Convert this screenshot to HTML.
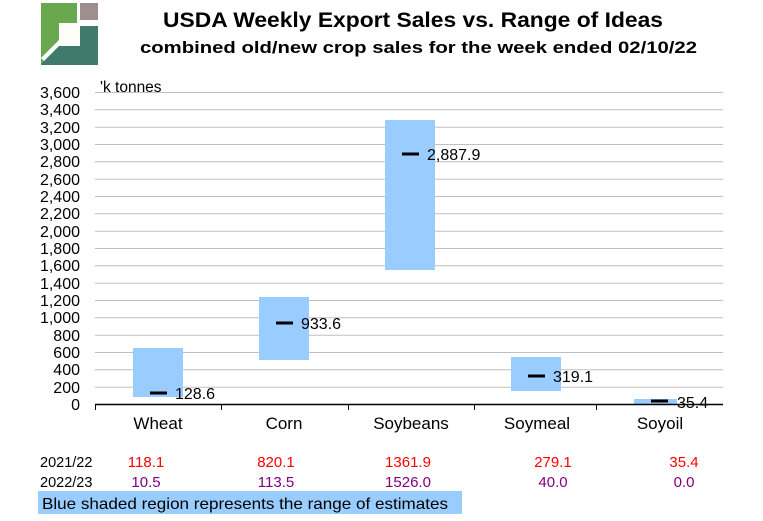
<!DOCTYPE html>
<html><head><style>
body{margin:0;background:#fff;width:763px;height:516px;overflow:hidden;font-family:"Liberation Sans",Arial,sans-serif}
</style></head><body>
<svg width="763" height="516" xmlns="http://www.w3.org/2000/svg" font-family="Liberation Sans, Arial, sans-serif">
<rect x="41" y="3" width="36" height="61" fill="#6aa84f"/>
<rect x="80" y="3" width="18" height="17" fill="#a08e8e"/>
<polygon points="41,64 59,46 80,46 80,26 98,26 98,65 41,65" fill="#3f7a6d"/>
<rect x="59" y="23" width="21" height="23" fill="#fffdf8"/>
<polygon points="41,58 59,40 62,43 44,61" fill="#fff"/>
<text x="163" y="27" font-size="21" font-weight="bold" textLength="500" lengthAdjust="spacingAndGlyphs">USDA Weekly Export Sales vs. Range of Ideas</text>
<text x="140" y="53" font-size="17" font-weight="bold" textLength="557" lengthAdjust="spacingAndGlyphs">combined old/new crop sales for the week ended 02/10/22</text>
<text x="100" y="92" font-size="15.5">'k tonnes</text>
<g stroke="#c0c0c0" stroke-width="1">
<line x1="95" x2="723" y1="92.5" y2="92.5"/><line x1="95" x2="723" y1="109.8" y2="109.8"/><line x1="95" x2="723" y1="127.2" y2="127.2"/><line x1="95" x2="723" y1="144.5" y2="144.5"/><line x1="95" x2="723" y1="161.8" y2="161.8"/><line x1="95" x2="723" y1="179.2" y2="179.2"/><line x1="95" x2="723" y1="196.5" y2="196.5"/><line x1="95" x2="723" y1="213.8" y2="213.8"/><line x1="95" x2="723" y1="231.2" y2="231.2"/><line x1="95" x2="723" y1="248.5" y2="248.5"/><line x1="95" x2="723" y1="265.8" y2="265.8"/><line x1="95" x2="723" y1="283.2" y2="283.2"/><line x1="95" x2="723" y1="300.5" y2="300.5"/><line x1="95" x2="723" y1="317.8" y2="317.8"/><line x1="95" x2="723" y1="335.2" y2="335.2"/><line x1="95" x2="723" y1="352.5" y2="352.5"/><line x1="95" x2="723" y1="369.8" y2="369.8"/><line x1="95" x2="723" y1="387.2" y2="387.2"/>
</g>
<g font-size="16" text-anchor="end">
<text x="80" y="98">3,600</text><text x="80" y="115">3,400</text><text x="80" y="133">3,200</text><text x="80" y="150">3,000</text><text x="80" y="167">2,800</text><text x="80" y="185">2,600</text><text x="80" y="202">2,400</text><text x="80" y="219">2,200</text><text x="80" y="237">2,000</text><text x="80" y="254">1,800</text><text x="80" y="271">1,600</text><text x="80" y="289">1,400</text><text x="80" y="306">1,200</text><text x="80" y="323">1,000</text><text x="80" y="341">800</text><text x="80" y="358">600</text><text x="80" y="375">400</text><text x="80" y="393">200</text><text x="80" y="410">0</text>
</g>
<g fill="#99ccff">
<rect x="133" y="348" width="50" height="49"/>
<rect x="259" y="297" width="50" height="63"/>
<rect x="385" y="120" width="50" height="150"/>
<rect x="511" y="357" width="50" height="34"/>
<rect x="634" y="399" width="43" height="5"/>
</g>
<line x1="95" x2="723" y1="404.5" y2="404.5" stroke="#000" stroke-width="1.5"/>
<g stroke="#000"><line x1="95.5" x2="95.5" y1="404" y2="410"/><line x1="221.5" x2="221.5" y1="404" y2="410"/><line x1="348.5" x2="348.5" y1="404" y2="410"/><line x1="474.5" x2="474.5" y1="404" y2="410"/><line x1="596.5" x2="596.5" y1="404" y2="410"/></g>
<g stroke="#000" stroke-width="3">
<line x1="150" x2="167" y1="393" y2="393"/><line x1="276" x2="293" y1="323" y2="323"/><line x1="402" x2="419" y1="154" y2="154"/><line x1="528" x2="545" y1="376" y2="376"/><line x1="651" x2="668" y1="401" y2="401"/>
</g>
<g font-size="16">
<text x="175" y="399">128.6</text><text x="301" y="329">933.6</text><text x="427" y="160">2,887.9</text><text x="553" y="382">319.1</text><text x="677" y="408">35.4</text>
</g>
<g font-size="17" text-anchor="middle">
<text x="158" y="429">Wheat</text><text x="284" y="429">Corn</text><text x="411" y="429">Soybeans</text><text x="537" y="429">Soymeal</text><text x="660" y="429">Soyoil</text>
</g>
<g font-size="14.5">
<text x="40" y="467">2021/22</text><text x="40" y="487">2022/23</text>
</g>
<g font-size="15" text-anchor="middle" fill="#ff0000">
<text x="146" y="467">118.1</text><text x="276" y="467">820.1</text><text x="408" y="467">1361.9</text><text x="553" y="467">279.1</text><text x="684" y="467">35.4</text>
</g>
<g font-size="15" text-anchor="middle" fill="#800080">
<text x="146" y="487">10.5</text><text x="276" y="487">113.5</text><text x="408" y="487">1526.0</text><text x="553" y="487">40.0</text><text x="684" y="487">0.0</text>
</g>
<rect x="38" y="491" width="424" height="23" fill="#99ccff"/>
<text x="42" y="509" font-size="16" textLength="406" lengthAdjust="spacingAndGlyphs">Blue shaded region represents the range of estimates</text>
</svg>
</body></html>
